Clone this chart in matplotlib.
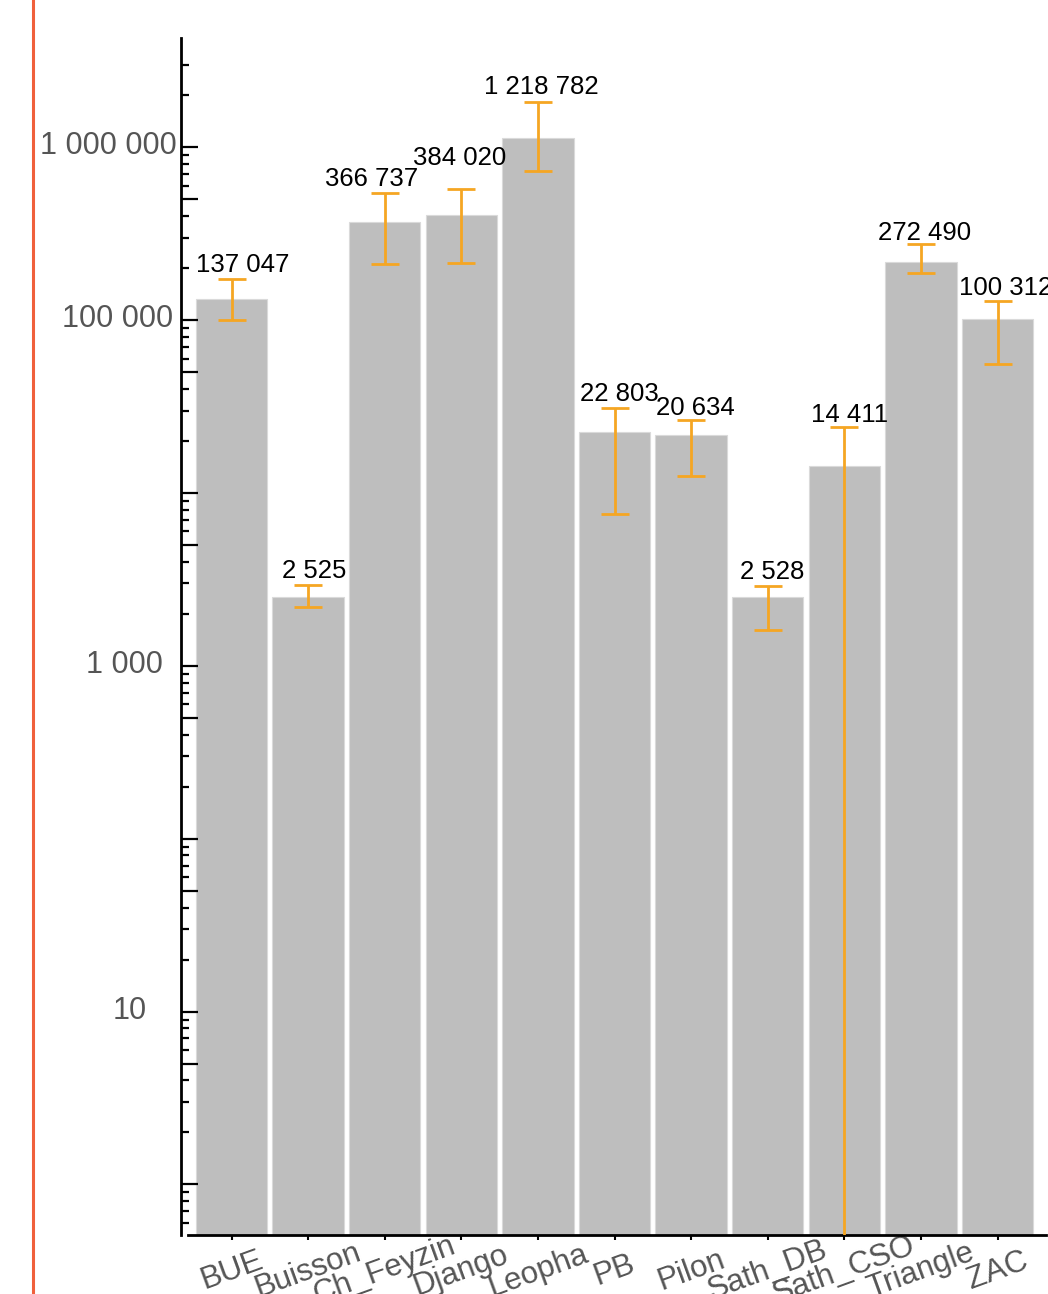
import numpy as np
import matplotlib
matplotlib.use('Agg')
import matplotlib.pyplot as plt
from matplotlib.lines import Line2D
from matplotlib.ticker import FixedLocator, NullFormatter

plt.rcParams['font.family'] = ['Liberation Sans', 'DejaVu Sans']

SITES = ['BUE', 'Buisson', 'Ch_Feyzin', 'Django', 'Leopha', 'PB', 'Pilon',
         'Sath_DB', 'Sath_CSO', 'Triangle', 'ZAC']
# bar heights and error bar ends
BAR_VALUES = [131800, 2510, 370300, 403300, 1133000, 22590, 21540, 2510, 14310, 216500, 101300]
ERR_LOW = [100400, 2180, 210000, 213700, 727500, 7550, 12470, 1605, 0.01, 187000, 55670]
ERR_HIGH = [172000, 2944, 542700, 574600, 1830000, 30850, 26510, 2894, 24050, 276300, 128800]
VALUE_LABELS = ['137 047', '2 525', '366 737', '384 020', '1 218 782', '22 803', '20 634',
                '2 528', '14 411', '272 490', '100 312']
Y_LABELED = [10, 1000, 100000, 1000000]
Y_TEXT = ['10', '1 000', '100 000', '1 000 000']

# label nudges in pixels (the original moved some labels to avoid overlaps)
LABEL_DX = [11, 6, -13, -2, 3.5, 5, 4.5, 4.5, 5, 4, 8.5]
LABEL_DY = [7.5, 6.5, 7, 23.5, 7.5, 7.5, 4.5, 7, 5.5, 4, 6.5]
YTEXT_DX = [-41, -25, -15, -11]

PX = 0.72  # points per pixel at dpi 100
GREY_TXT = '#555555'

fig = plt.figure(figsize=(10.48, 12.94), dpi=100)
ax = fig.add_axes([188 / 1048, 59 / 1294, (1046 - 188) / 1048, (1235 - 38) / 1294])
ax.set_yscale('log')

x = np.arange(len(SITES))
vals = np.array(BAR_VALUES, dtype=float)
lo = np.array(ERR_LOW, dtype=float)
hi = np.array(ERR_HIGH, dtype=float)

ax.bar(x, vals, width=0.933, color='#bebebe', edgecolor='#dadada', linewidth=0.8, zorder=1)
ax.errorbar(x, vals, yerr=[vals - lo, hi - vals], fmt='none', ecolor='#f5a623',
            elinewidth=2, capsize=10, capthick=2, zorder=3)

ax.set_xlim(-0.568, 10.633)
ax.set_ylim(0.51, 4.29e6)

# log ticks: decades long, 5x medium, others short
majors = [10.0 ** k for k in range(0, 7)] + [5 * 10.0 ** k for k in range(0, 6)]
minors = [m * 10.0 ** k for k in range(-1, 7) for m in (2, 3, 4, 6, 7, 8, 9)]
minors = [m for m in minors if 0.55 < m <= 3.1e6]
ax.yaxis.set_major_locator(FixedLocator(majors))
ax.yaxis.set_minor_locator(FixedLocator(minors))
ax.yaxis.set_major_formatter(NullFormatter())
ax.yaxis.set_minor_formatter(NullFormatter())
ax.tick_params(axis='y', which='major', direction='in', length=12.2, width=1.6, color='black')
ax.tick_params(axis='y', which='minor', direction='in', length=5.8, width=1.6, color='black')
for tick, loc in zip(ax.yaxis.get_major_ticks(len(majors)), majors):
    if round(np.log10(loc) % 1, 3) != 0:
        tick.tick1line.set_markersize(9.4)

for v, t, dx in zip(Y_LABELED, Y_TEXT, YTEXT_DX):
    ax.annotate(t, xy=(0, v), xycoords=ax.get_yaxis_transform(),
                xytext=(dx * PX, -7 * PX), textcoords='offset points',
                ha='right', va='baseline', fontsize=22, color=GREY_TXT,
                annotation_clip=False)

ax.set_xticks(x)
ax.set_xticklabels(SITES, rotation=20, ha='center', va='center',
                   rotation_mode='anchor', fontsize=22.5, color=GREY_TXT)
ax.tick_params(axis='x', direction='out', length=3.6, width=1.5, pad=22, color='black')

for sp in ['top', 'right']:
    ax.spines[sp].set_visible(False)
ax.spines['left'].set_position(('outward', 5))
ax.spines['left'].set_linewidth(2)
ax.spines['bottom'].set_linewidth(2)

for i, lbl in enumerate(VALUE_LABELS):
    ax.annotate(lbl, xy=(x[i], hi[i]), xytext=(LABEL_DX[i] * PX, LABEL_DY[i] * PX),
                textcoords='offset points', ha='center', va='baseline',
                fontsize=18.5, color='black', annotation_clip=False)

fig.add_artist(Line2D([33 / 1048, 33 / 1048], [0, 1], transform=fig.transFigure,
                      color='#f0603c', linewidth=2.2))

fig.savefig('out.png', dpi=100)
